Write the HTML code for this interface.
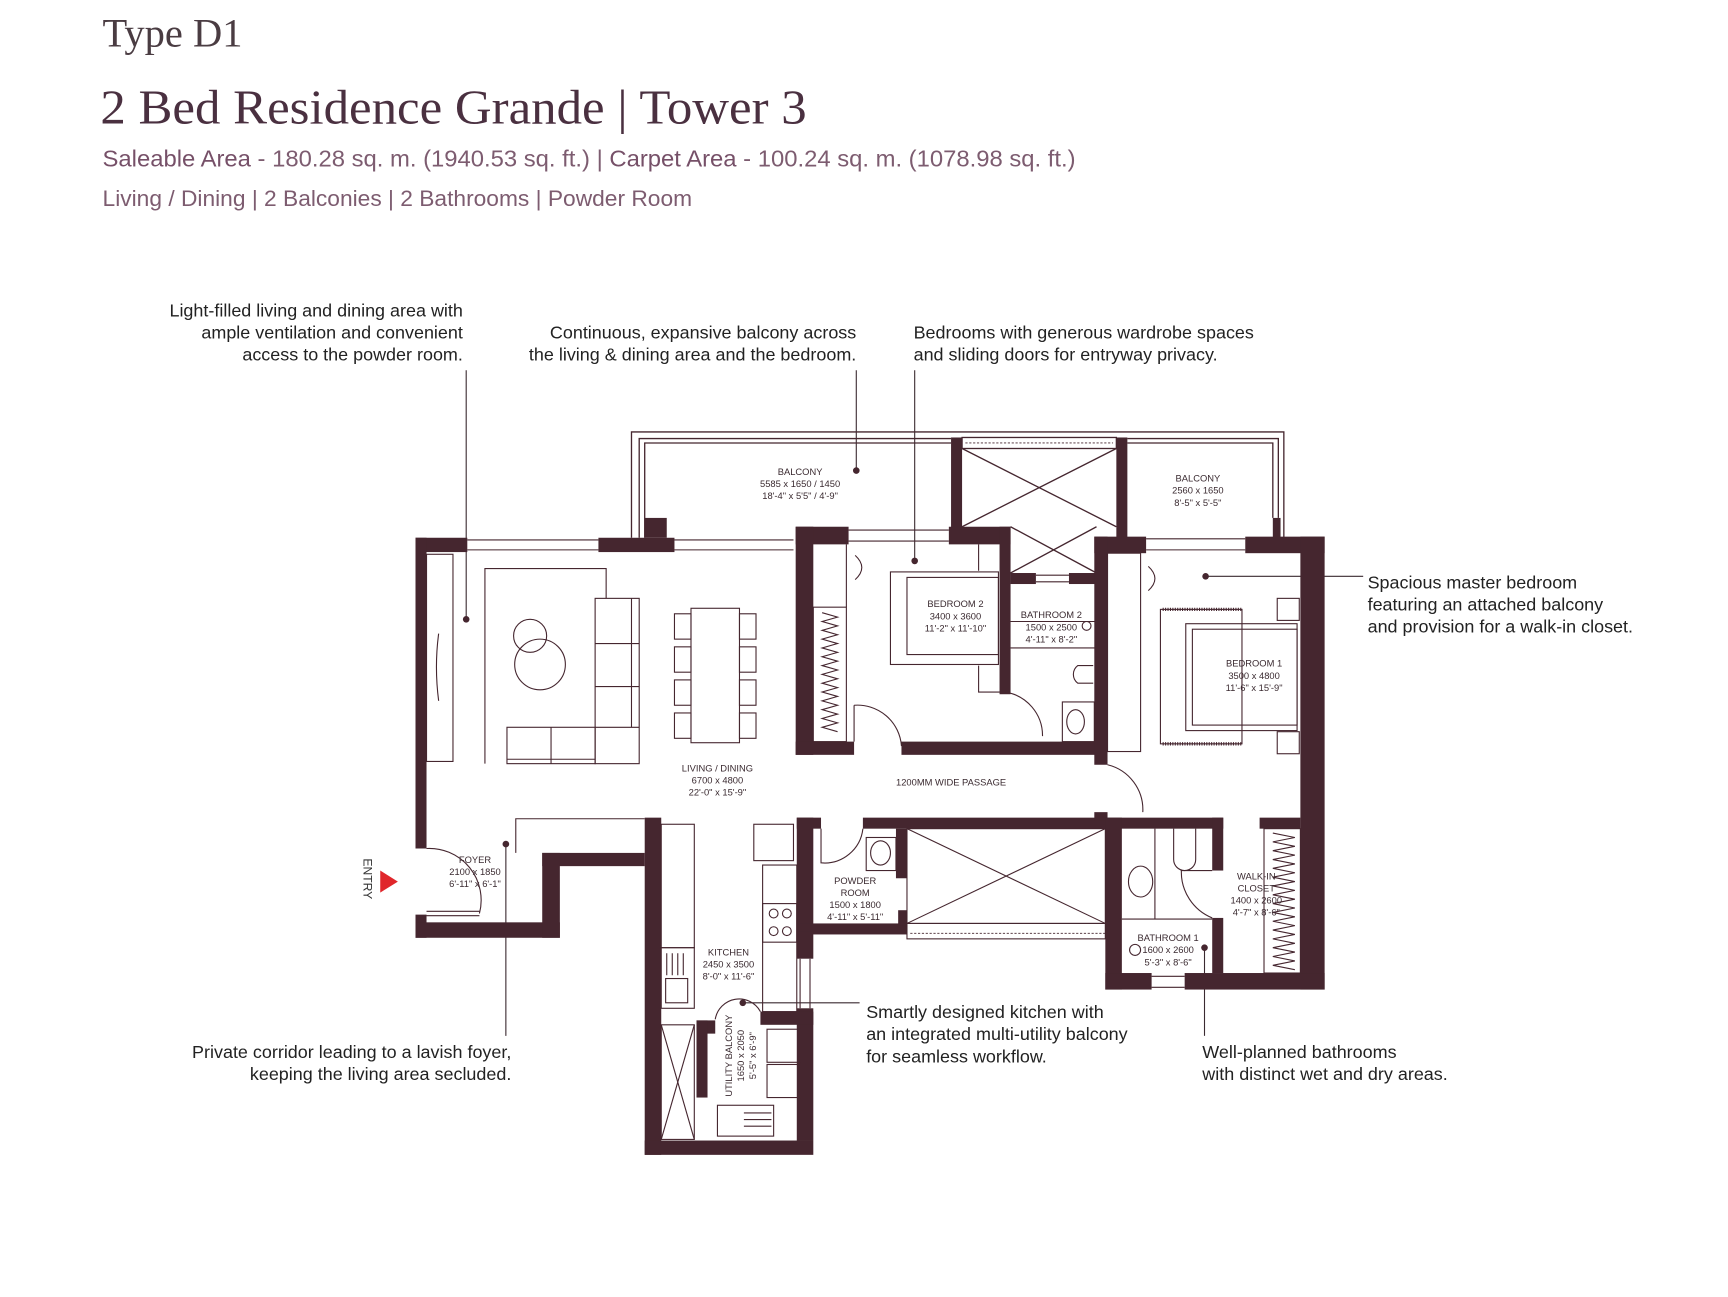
<!DOCTYPE html>
<html><head><meta charset="utf-8"><style>
html,body{margin:0;padding:0;background:#fff;}
svg{display:block}
.t{font-family:"Liberation Sans",sans-serif;}
</style></head><body>
<svg width="1728" height="1297" viewBox="0 0 1568 1177" xmlns="http://www.w3.org/2000/svg">
<rect width="1568" height="1177" fill="#fff"/>
<!-- header -->
<text x="93" y="42" font-family="Liberation Serif,serif" font-size="36" fill="#4a3c42" textLength="127" lengthAdjust="spacingAndGlyphs">Type D1</text>
<text x="91" y="112" font-family="Liberation Serif,serif" font-size="44" fill="#4a3040" textLength="641" lengthAdjust="spacingAndGlyphs">2 Bed Residence Grande | Tower 3</text>
<text x="93" y="151" class="t" font-size="21" fill="#7d5c70" textLength="883" lengthAdjust="spacingAndGlyphs"><tspan fill="#765068">Saleable Area</tspan> - 180.28 sq. m. (1940.53 sq. ft.) | <tspan fill="#765068">Carpet Area</tspan> - 100.24 sq. m. (1078.98 sq. ft.)</text>
<text x="93" y="187" class="t" font-size="20" fill="#7d5c70" textLength="535" lengthAdjust="spacingAndGlyphs">Living / Dining | 2 Balconies | 2 Bathrooms | Powder Room</text>

<!-- annotations -->
<g class="t" font-size="16.3" fill="#222">
<text text-anchor="end" x="420" y="287">Light-filled living and dining area with</text>
<text text-anchor="end" x="420" y="307">ample ventilation and convenient</text>
<text text-anchor="end" x="420" y="327">access to the powder room.</text>
<text text-anchor="end" x="777" y="307">Continuous, expansive balcony across</text>
<text text-anchor="end" x="777" y="327">the living &amp; dining area and the bedroom.</text>
<text x="829" y="307">Bedrooms with generous wardrobe spaces</text>
<text x="829" y="327">and sliding doors for entryway privacy.</text>
<text x="1241" y="534">Spacious master bedroom</text>
<text x="1241" y="554">featuring an attached balcony</text>
<text x="1241" y="574">and provision for a walk-in closet.</text>
<text text-anchor="end" x="464" y="960">Private corridor leading to a lavish foyer,</text>
<text text-anchor="end" x="464" y="980">keeping the living area secluded.</text>
<text x="786" y="924">Smartly designed kitchen with</text>
<text x="786" y="944">an integrated multi-utility balcony</text>
<text x="786" y="964">for seamless workflow.</text>
<text x="1091" y="960">Well-planned bathrooms</text>
<text x="1091" y="980">with distinct wet and dry areas.</text>
</g>
<g stroke="#3a2a30" stroke-width="1" fill="none">
<line x1="423" y1="336" x2="423" y2="562"/>
<line x1="777" y1="336" x2="777" y2="427"/>
<line x1="830" y1="336" x2="830" y2="509"/>
<line x1="1094" y1="523" x2="1237" y2="523"/>
<line x1="459" y1="766" x2="459" y2="940"/>
<line x1="674" y1="910" x2="780" y2="910"/>
<line x1="1093" y1="860" x2="1093" y2="940"/>
</g>
<g fill="#45262f">
<circle cx="423" cy="562" r="3"/><circle cx="777" cy="427" r="3"/><circle cx="830" cy="509" r="3"/>
<circle cx="1094" cy="523" r="3"/><circle cx="459" cy="766" r="3"/><circle cx="674" cy="910" r="3"/><circle cx="1093" cy="860" r="3"/>
</g>

<!-- balcony rails -->
<g stroke="#45262f" stroke-width="1.2" fill="none">
<path d="M573 488 V392 H1165 V488"/>
<path d="M580 488 V398 H863 M585 488 V402 H863"/>
<path d="M1023 398 H1160 V470 M1023 402 H1155 V470"/>
<rect x="873" y="397" width="140" height="10"/>
<line x1="873" y1="407" x2="1013" y2="478"/><line x1="1013" y1="407" x2="873" y2="478"/>
<line x1="917" y1="478" x2="995" y2="520"/><line x1="995" y1="478" x2="917" y2="520"/>
<rect x="588" y="472" width="14" height="14"/><line x1="588" y1="472" x2="602" y2="486"/><line x1="602" y1="472" x2="588" y2="486"/>
</g>
<g fill="none" stroke="#45262f" stroke-width="0.8" stroke-dasharray="2 1.5">
<line x1="876" y1="402" x2="1010" y2="402"/>
<line x1="826" y1="847" x2="1003" y2="847"/>
</g>

<!-- windows (thin lines) -->
<g stroke="#45262f" stroke-width="1" fill="none">
<path d="M424 490 H543 M424 499 H543 M612 490 H720 M612 499 H720"/>
<path d="M770 481 H861 M770 491 H861 M1040 489 H1130 M1040 499 H1130"/>
<path d="M940 522 H970 M940 528 H970"/>
<path d="M1045 886 H1075 M1045 896 H1075"/>
<path d="M726 870 V915 M735 870 V915"/>
</g>

<!-- walls -->
<g fill="#45262f">
<rect x="377" y="488" width="47" height="13"/>
<rect x="377" y="488" width="10" height="282"/>
<rect x="377" y="830" width="10" height="21"/>
<rect x="377" y="837" width="131" height="14"/>
<rect x="492" y="774" width="16" height="77"/>
<rect x="492" y="774" width="93" height="12"/>
<rect x="543" y="488" width="69" height="13"/>
<rect x="585" y="470" width="20" height="18"/>
<rect x="863" y="397" width="10" height="83"/>
<rect x="1013" y="397" width="10" height="93"/>
<rect x="1155" y="470" width="7" height="18"/>
<rect x="722" y="478" width="48" height="16"/>
<rect x="722" y="478" width="16" height="207"/>
<rect x="861" y="478" width="56" height="16"/>
<rect x="907" y="478" width="10" height="152"/>
<rect x="917" y="520" width="23" height="10"/>
<rect x="970" y="520" width="25" height="10"/>
<rect x="722" y="673" width="53" height="12"/>
<rect x="818" y="673" width="177" height="12"/>
<rect x="993" y="487" width="47" height="15"/>
<rect x="993" y="487" width="12" height="207"/>
<rect x="1130" y="487" width="72" height="15"/>
<rect x="1180" y="487" width="22" height="411"/>
<rect x="723" y="742" width="22" height="10"/>
<rect x="783" y="742" width="327" height="10"/>
<rect x="993" y="737" width="12" height="8"/>
<rect x="1143" y="742" width="37" height="10"/>
<rect x="723" y="742" width="15" height="105"/>
<rect x="723" y="838" width="100" height="10"/>
<rect x="813" y="752" width="10" height="45"/>
<rect x="815" y="826" width="8" height="14"/>
<rect x="1003" y="742" width="15" height="156"/>
<rect x="1003" y="883" width="42" height="15"/>
<rect x="1075" y="883" width="127" height="15"/>
<rect x="1100" y="742" width="10" height="48"/>
<rect x="1100" y="833" width="10" height="50"/>
<rect x="585" y="742" width="15" height="306"/>
<rect x="585" y="1035" width="153" height="13"/>
<rect x="723" y="845" width="15" height="25"/>
<rect x="723" y="915" width="15" height="120"/>
<rect x="690" y="918" width="48" height="12"/>
<rect x="632" y="926" width="17" height="12"/>
<rect x="632" y="926" width="10" height="70"/>
</g>

<!-- interior lines / furniture -->
<g stroke="#45262f" stroke-width="1" fill="none">
<rect x="387" y="503" width="24" height="188"/>
<path d="M398 575 Q394 605 398 636"/>
<path d="M440 693 V516 H550 V543"/>
<rect x="540" y="543" width="40" height="150"/>
<path d="M540 584 H580 M540 623 H580 M540 660 H580 M573 543 V660"/>
<rect x="460" y="660" width="80" height="33"/>
<path d="M500 660 V693 M460 689 H540"/>
<circle cx="481" cy="577" r="15"/><circle cx="490" cy="603" r="23"/>
<rect x="627" y="552" width="44" height="122"/>
<rect x="612" y="557" width="15" height="23"/><rect x="612" y="587" width="15" height="23"/><rect x="612" y="617" width="15" height="23"/><rect x="612" y="647" width="15" height="23"/>
<rect x="671" y="557" width="15" height="23"/><rect x="671" y="587" width="15" height="23"/><rect x="671" y="617" width="15" height="23"/><rect x="671" y="647" width="15" height="23"/>
<!-- bedroom2 -->
<rect x="738" y="551" width="30" height="122"/>
<path d="M746 556 l14 4 l-14 4 l14 4 l-14 4 l14 4 l-14 4 l14 4 l-14 4 l14 4 l-14 4 l14 4 l-14 4 l14 4 l-14 4 l14 4 l-14 4 l14 4 l-14 4 l14 4 l-14 4 l14 4 l-14 4 l14 4 l-14 4 l14 4 l-14 4 l14 4"/>
<line x1="768" y1="494" x2="768" y2="551"/>
<path d="M776 504 Q788 515 776 526"/>
<rect x="808" y="519" width="98" height="84"/>
<rect x="823" y="524" width="83" height="70"/>
<path d="M888 494 V518 M888 604 V628 H907"/>
<path d="M775 640 A40 40 0 0 1 818 677 M775 640 V673"/>
<path d="M912 628 A40 40 0 0 1 946 668"/>
<!-- bath2 -->
<path d="M917 564 H995 M917 588 H995"/>
<path d="M992 604 H978 A10 10 0 0 0 978 620 H992"/>
<rect x="964" y="637" width="29" height="36"/><ellipse cx="976" cy="655" rx="8" ry="11"/>
<circle cx="986" cy="568" r="4"/>
<!-- master -->
<rect x="1005" y="502" width="30" height="180"/>
<path d="M1042 514 Q1054 525 1042 536"/>
<rect x="1053" y="553" width="74" height="122"/>
<rect x="1076" y="566" width="101" height="97"/><rect x="1082" y="571" width="95" height="87"/>
<rect x="1159" y="543" width="20" height="20"/><rect x="1159" y="664" width="20" height="20"/>
<path d="M1055 553 h72 M1055 675 h72" stroke-dasharray="1 1.2" stroke-width="3"/>
<path d="M1005 694 A42 42 0 0 1 1037 737"/>
<!-- foyer -->
<path d="M387 770 A47 47 0 0 1 435 829 M387 827 H435 M387 831 H435"/>
<path d="M468 774 V743 H585"/>
<!-- kitchen -->
<rect x="600" y="748" width="30" height="112"/>
<rect x="600" y="860" width="30" height="55"/>
<path d="M605 865 V885 M610 865 V885 M615 865 V885 M620 865 V885"/>
<rect x="604" y="888" width="20" height="22"/>
<rect x="684" y="748" width="36" height="33"/>
<rect x="692" y="785" width="31" height="133"/>
<rect x="692" y="820" width="31" height="35"/>
<circle cx="702" cy="829" r="4"/><circle cx="714" cy="829" r="4"/><circle cx="702" cy="845" r="4"/><circle cx="714" cy="845" r="4"/>
<!-- utility -->
<rect x="600" y="930" width="30" height="104"/>
<line x1="600" y1="930" x2="630" y2="1034"/><line x1="630" y1="930" x2="600" y2="1034"/>
<rect x="696" y="934" width="30" height="30"/><rect x="696" y="966" width="30" height="30"/>
<rect x="651" y="1003" width="51" height="28"/>
<path d="M675 1010 H700 M675 1016 H700 M675 1022 H700"/>
<path d="M649 925 A22 22 0 0 1 690 918"/>
<!-- powder -->
<path d="M745 752 V783 A35 35 0 0 0 783 752"/>
<rect x="786" y="760" width="27" height="30"/><ellipse cx="799" cy="774" rx="9" ry="11"/>
<!-- shaft -->
<rect x="823" y="752" width="180" height="86"/>
<line x1="823" y1="752" x2="1003" y2="838"/><line x1="1003" y1="752" x2="823" y2="838"/>
<rect x="823" y="838" width="180" height="14"/>
<!-- bath1 -->
<path d="M1018 834 H1100 M1048 752 V834"/>
<path d="M1065 752 V780 A10 10 0 0 0 1085 780 V752"/>
<ellipse cx="1035" cy="800" rx="11" ry="14"/>
<path d="M1100 790 H1072 A45 45 0 0 0 1100 833"/>
<circle cx="1030" cy="862" r="5"/>
<!-- walk-in -->
<rect x="1147" y="752" width="33" height="131"/>
<path d="M1155 756 l20 4 l-20 4 l20 4 l-20 4 l20 4 l-20 4 l20 4 l-20 4 l20 4 l-20 4 l20 4 l-20 4 l20 4 l-20 4 l20 4 l-20 4 l20 4 l-20 4 l20 4 l-20 4 l20 4 l-20 4 l20 4 l-20 4 l20 4 l-20 4 l20 4 l-20 4 l20 4 l-20 4 l20 4"/>
</g>

<!-- entry arrow -->
<polygon points="345,790 361,800 345,810" fill="#e0262b"/>
<text class="t" font-size="11" fill="#333" transform="translate(330,779) rotate(90)">ENTRY</text>

<!-- room labels -->
<g class="t" font-size="8.5" fill="#3a2a30" text-anchor="middle">
<text x="726" y="431">BALCONY</text><text x="726" y="442">5585 x 1650 / 1450</text><text x="726" y="453">18'-4" x 5'5" / 4'-9"</text>
<text x="1087" y="437">BALCONY</text><text x="1087" y="448">2560 x 1650</text><text x="1087" y="459">8'-5" x 5'-5"</text>
<text x="867" y="551">BEDROOM 2</text><text x="867" y="562">3400 x 3600</text><text x="867" y="573">11'-2" x 11'-10"</text>
<text x="954" y="561">BATHROOM 2</text><text x="954" y="572">1500 x 2500</text><text x="954" y="583">4'-11" x 8'-2"</text>
<text x="1138" y="605">BEDROOM 1</text><text x="1138" y="616">3500 x 4800</text><text x="1138" y="627">11'-6" x 15'-9"</text>
<text x="651" y="700">LIVING / DINING</text><text x="651" y="711">6700 x 4800</text><text x="651" y="722">22'-0" x 15'-9"</text>
<text x="863" y="713">1200MM WIDE PASSAGE</text>
<text x="431" y="783">FOYER</text><text x="431" y="794">2100 x 1850</text><text x="431" y="805">6'-11" x 6'-1"</text>
<text x="776" y="802">POWDER</text><text x="776" y="813">ROOM</text><text x="776" y="824">1500 x 1800</text><text x="776" y="835">4'-11" x 5'-11"</text>
<text x="1140" y="798">WALK-IN</text><text x="1140" y="809">CLOSET</text><text x="1140" y="820">1400 x 2600</text><text x="1140" y="831">4'-7" x 8'-6"</text>
<text x="1060" y="854">BATHROOM 1</text><text x="1060" y="865">1600 x 2600</text><text x="1060" y="876">5'-3" x 8'-6"</text>
<text x="661" y="867">KITCHEN</text><text x="661" y="878">2450 x 3500</text><text x="661" y="889">8'-0" x 11'-6"</text>
<g transform="translate(664,958) rotate(-90)"><text x="0" y="0">UTILITY BALCONY</text><text x="0" y="11">1650 x 2050</text><text x="0" y="22">5'-5" x 6'-9"</text></g>
</g>
</svg>
</body></html>
